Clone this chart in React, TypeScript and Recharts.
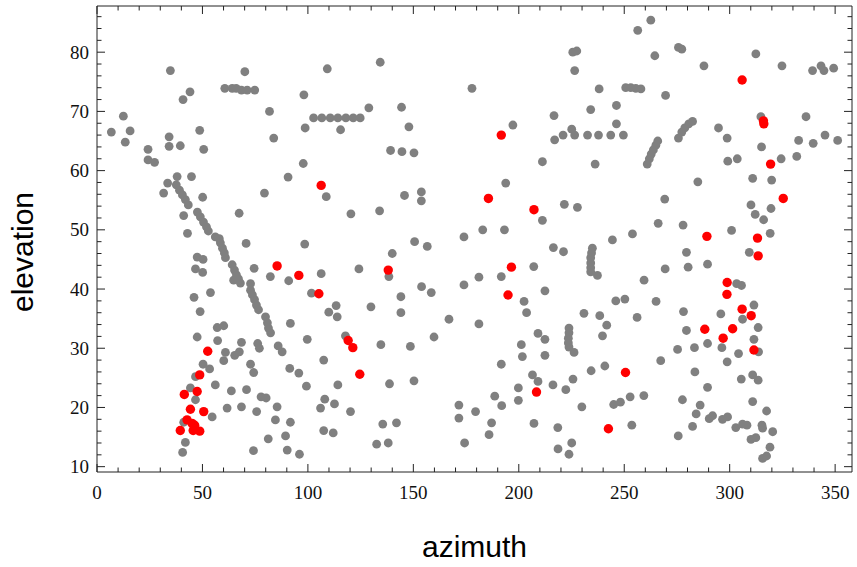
import { ScatterChart, Scatter, XAxis, YAxis } from "recharts";

// [azimuth, elevation]
const grayPoints: [number, number][] = [
  [6.8, 66.5], [12.5, 69.2], [15.7, 66.7], [13.4, 64.8], [24.2, 63.6], [24.2, 61.8], [27.3, 61.4],
  [34.8, 76.9], [34.2, 65.7], [34.2, 64.1], [39.5, 64.2], [40.8, 72.0], [44.1, 73.3], [48.7, 66.8],
  [50.6, 63.6], [60.6, 73.9], [64.1, 73.9], [66.0, 73.9], [68.5, 73.6], [71.2, 73.6], [74.8, 73.6],
  [70.1, 76.7], [81.8, 70.0], [83.8, 65.5], [109.2, 77.2], [134.3, 78.3], [98.1, 72.8], [128.9, 70.6],
  [144.4, 70.7], [177.8, 73.9], [102.7, 68.9], [106.6, 68.9], [110.6, 68.9], [114.2, 68.9],
  [118.0, 68.9], [121.5, 68.9], [124.8, 68.9], [98.7, 67.2], [115.5, 66.9], [147.9, 67.4],
  [139.2, 63.4], [144.6, 63.2], [150.3, 63.0], [97.8, 61.2], [262.6, 85.4], [256.4, 83.7],
  [225.6, 80.0], [227.5, 80.2], [264.5, 79.4], [226.5, 76.9], [238.1, 73.8], [250.7, 74.0],
  [253.1, 74.0], [255.5, 73.9], [257.9, 73.8], [269.6, 72.7], [246.3, 71.0], [234.1, 70.3],
  [216.7, 69.3], [197.2, 67.7], [246.3, 67.9], [221.0, 66.0], [225.1, 67.0], [226.5, 66.0],
  [217.0, 65.2], [232.6, 66.0], [237.8, 66.0], [243.6, 66.0], [249.6, 66.0], [211.2, 61.5],
  [236.2, 61.1], [260.9, 61.1], [261.9, 62.0], [262.8, 62.8], [263.8, 63.5], [265.0, 64.3],
  [265.9, 65.0], [275.7, 80.8], [277.3, 80.5], [287.8, 77.7], [312.4, 79.7], [324.8, 77.7],
  [339.3, 76.9], [343.3, 77.7], [344.7, 76.9], [349.3, 77.3], [275.7, 65.5], [277.3, 66.5],
  [278.7, 67.2], [280.6, 67.9], [282.4, 68.3], [294.7, 67.2], [298.8, 65.5], [314.8, 69.1],
  [336.2, 69.1], [345.2, 66.0], [332.7, 65.1], [339.6, 64.6], [351.2, 65.1], [315.1, 64.0],
  [299.1, 61.6], [303.6, 62.0], [324.4, 62.0], [331.8, 62.4],
  [38.0, 59.0], [44.8, 59.0], [33.5, 57.9], [31.6, 56.2], [37.6, 57.6], [39.1, 56.7], [40.5, 55.9],
  [41.9, 55.1], [43.3, 54.2], [50.1, 55.5], [79.4, 56.2], [90.6, 58.9], [41.1, 52.4], [47.6, 53.0],
  [49.0, 52.2], [50.5, 51.3], [51.9, 50.5], [52.8, 49.8], [67.4, 52.8], [42.9, 49.4], [56.1, 48.8],
  [58.0, 48.5], [58.5, 47.8], [59.5, 46.9], [60.4, 46.1], [60.9, 45.3], [70.7, 47.7], [47.5, 45.4],
  [50.3, 45.0], [46.7, 43.4], [50.1, 42.8], [74.5, 43.5], [82.2, 42.1], [90.9, 41.4], [64.1, 44.1],
  [65.2, 43.2], [66.1, 42.4], [67.1, 41.7], [68.0, 41.0], [64.8, 41.5], [72.8, 39.8], [73.7, 39.0],
  [74.7, 38.2], [75.6, 37.3], [76.6, 36.5], [72.8, 40.9], [46.0, 38.6], [53.8, 39.4], [48.9, 36.2],
  [79.9, 35.3],
  [108.7, 55.6], [120.4, 52.7], [134.0, 53.2], [145.8, 55.8], [153.8, 56.4], [153.8, 54.9],
  [98.5, 47.6], [150.6, 48.0], [156.6, 47.2], [174.0, 48.8], [140.0, 46.0], [124.2, 43.4],
  [138.4, 42.1], [106.3, 42.6], [101.7, 39.3], [153.9, 40.4], [158.5, 39.4], [174.0, 40.7],
  [181.1, 42.0], [144.1, 38.7], [113.4, 37.2], [109.9, 36.1], [113.9, 35.3], [129.9, 37.0],
  [144.1, 36.0], [166.9, 34.9], [182.9, 50.0],
  [193.8, 57.9], [211.2, 51.6], [221.6, 54.3], [227.8, 53.8], [269.2, 55.2], [193.2, 50.0],
  [266.1, 51.1], [253.9, 49.3], [244.4, 48.3], [216.4, 47.0], [221.2, 46.3], [234.9, 46.9],
  [234.5, 46.1], [234.1, 45.3], [234.1, 44.4], [234.1, 43.6], [234.1, 42.9], [237.3, 42.3],
  [207.1, 43.8], [191.7, 42.1], [259.4, 41.5], [269.4, 43.4], [212.4, 39.7], [202.5, 37.9],
  [203.7, 36.0], [246.0, 38.0], [250.3, 38.3], [265.1, 37.9], [230.9, 35.9], [238.4, 35.5],
  [256.1, 35.2],
  [284.9, 58.1], [310.9, 58.7], [319.9, 58.4], [310.1, 54.2], [319.6, 53.6], [312.1, 52.6],
  [316.1, 51.7], [277.9, 50.8], [300.9, 49.9], [319.2, 49.4], [279.5, 46.2], [309.3, 46.2],
  [280.3, 43.7], [289.5, 44.2], [303.3, 40.9], [305.6, 40.6], [311.5, 37.3], [278.1, 36.2],
  [295.8, 35.8], [306.1, 34.9],
  [57.0, 33.5], [60.1, 33.8], [47.5, 31.9], [57.2, 31.3], [68.5, 31.0], [80.8, 34.3], [81.3, 33.4],
  [82.3, 32.6], [76.2, 30.8], [77.0, 30.0], [85.9, 30.4], [87.8, 29.4], [91.7, 34.2], [91.4, 26.6],
  [60.9, 29.3], [65.3, 28.8], [67.5, 29.4], [60.1, 27.9], [72.8, 27.3], [74.3, 25.9], [50.3, 27.3],
  [53.4, 26.5], [46.7, 25.2], [56.1, 23.8], [44.3, 23.3], [63.7, 22.8], [70.9, 23.0], [77.8, 21.8],
  [80.2, 21.6], [85.4, 20.1], [84.6, 17.9], [91.7, 17.5], [81.2, 14.7], [89.4, 15.2], [90.2, 12.8],
  [74.2, 12.7], [46.7, 21.3], [54.6, 18.4], [61.7, 19.9], [68.5, 20.1], [75.7, 19.3], [41.1, 17.5],
  [41.9, 14.1], [40.6, 12.4],
  [181.1, 34.1], [99.7, 31.5], [117.8, 32.1], [134.6, 30.6], [148.6, 30.3], [159.8, 31.9],
  [107.5, 28.0], [95.7, 25.8], [99.3, 23.6], [114.2, 23.8], [138.7, 24.0], [150.3, 24.5],
  [108.0, 21.4], [106.0, 19.9], [112.6, 20.6], [120.2, 19.3], [171.6, 20.4], [171.6, 18.2],
  [179.5, 19.3], [135.5, 17.2], [142.0, 17.4], [107.5, 16.1], [112.0, 15.7], [96.0, 12.1],
  [132.6, 13.8], [138.1, 14.0], [174.3, 14.0],
  [209.1, 32.5], [212.4, 31.5], [201.2, 30.6], [201.7, 28.6], [212.4, 28.8], [223.8, 33.4],
  [223.8, 32.6], [223.5, 31.7], [223.5, 30.9], [223.8, 30.2], [226.2, 29.3], [241.7, 33.9],
  [239.7, 32.1], [191.7, 27.3], [267.3, 27.9], [234.3, 26.2], [240.8, 27.0], [206.5, 25.5],
  [209.1, 24.4], [199.8, 23.3], [216.2, 23.8], [222.3, 23.0], [225.7, 24.8], [188.6, 21.9],
  [199.8, 21.2], [191.9, 20.3], [229.9, 20.1], [245.0, 20.5], [248.2, 20.9], [252.8, 21.8],
  [259.3, 22.0], [187.1, 17.4], [185.9, 15.4], [207.2, 17.3], [218.5, 16.6], [253.6, 17.0],
  [225.1, 14.0], [218.6, 13.0], [223.8, 12.1],
  [279.5, 33.0], [313.5, 33.5], [311.5, 31.5], [313.7, 29.4], [275.3, 29.8], [283.3, 30.1],
  [289.5, 30.8], [296.3, 30.1], [304.2, 29.1], [298.8, 27.7], [283.5, 26.0], [310.9, 25.5],
  [313.5, 24.6], [305.5, 24.8], [289.5, 23.4], [277.6, 21.3], [286.0, 20.4], [284.1, 18.9],
  [310.9, 21.0], [317.5, 19.4], [290.3, 18.1], [291.9, 18.6], [296.6, 18.0], [299.0, 18.4],
  [302.9, 16.6], [306.1, 17.2], [308.2, 17.0], [315.3, 17.0], [315.6, 16.5], [320.4, 15.9],
  [282.4, 16.8], [275.6, 15.2], [310.1, 14.6], [312.4, 14.9], [319.1, 13.3], [315.6, 11.4],
  [317.5, 11.8],
];

const redPoints: [number, number][] = [
  [191.7, 66.0], [305.9, 75.3], [316.0, 68.4], [316.2, 67.9], [319.4, 61.1], [85.4, 43.9],
  [106.3, 57.5], [138.1, 43.2], [95.7, 42.3], [105.2, 39.2], [185.6, 55.3], [207.2, 53.4],
  [196.5, 43.7], [194.9, 39.0], [325.4, 55.3], [289.2, 48.9], [313.2, 48.6], [313.5, 45.6],
  [298.8, 41.1], [298.7, 39.1], [305.9, 36.6], [310.2, 35.5], [288.2, 33.2], [301.4, 33.3],
  [296.9, 31.7], [311.5, 29.7], [119.1, 31.3], [121.3, 30.1], [124.6, 25.6], [208.4, 22.6],
  [250.6, 25.9], [242.5, 16.4], [52.5, 29.5], [48.7, 25.5], [41.4, 22.2], [47.5, 22.7],
  [44.3, 19.7], [50.6, 19.3], [42.7, 17.9], [45.1, 17.3], [46.3, 17.0], [39.5, 16.1],
  [45.6, 16.1], [48.7, 16.0],
];

const xTicks = [
  0, 10, 20, 30, 40, 50, 60, 70, 80, 90, 100, 110, 120, 130, 140, 150, 160, 170, 180,
  190, 200, 210, 220, 230, 240, 250, 260, 270, 280, 290, 300, 310, 320, 330, 340, 350,
];
const yTicks = [
  10, 12, 14, 16, 18, 20, 22, 24, 26, 28, 30, 32, 34, 36, 38, 40, 42, 44, 46, 48,
  50, 52, 54, 56, 58, 60, 62, 64, 66, 68, 70, 72, 74, 76, 78, 80, 82, 84, 86,
];

const xDomain = [0, 358];
const yDomain = [9.1, 87.8];

const frameColor = "#222";
const tickFont = '"Liberation Serif", "Times New Roman", serif';
const titleFont = '"Liberation Sans", Arial, sans-serif';

const toRows = (pts: [number, number][]) => pts.map(([az, el]) => ({ az, el }));

function BottomTick({ x, y, payload }: any) {
  const major = payload.value % 50 === 0;
  return (
    <g>
      <line x1={x} y1={y} x2={x} y2={y - (major ? 8 : 4.5)} stroke={frameColor} />
      {major && (
        <text x={x} y={y + 27} textAnchor="middle" fontFamily={tickFont} fontSize={19} fill="#111">
          {payload.value}
        </text>
      )}
    </g>
  );
}

function TopTick({ x, y, payload }: any) {
  const major = payload.value % 50 === 0;
  return <line x1={x} y1={y} x2={x} y2={y + (major ? 8 : 4.5)} stroke={frameColor} />;
}

function LeftTick({ x, y, payload }: any) {
  const major = payload.value % 10 === 0;
  return (
    <g>
      <line x1={x} y1={y} x2={x + (major ? 8 : 4.5)} y2={y} stroke={frameColor} />
      {major && (
        <text x={x - 8} y={y + 6.5} textAnchor="end" fontFamily={tickFont} fontSize={19} fill="#111">
          {payload.value}
        </text>
      )}
    </g>
  );
}

function RightTick({ x, y, payload }: any) {
  const major = payload.value % 10 === 0;
  return <line x1={x} y1={y} x2={x - (major ? 8 : 4.5)} y2={y} stroke={frameColor} />;
}

const Dot = (color: string, r: number) => (props: any) =>
  <circle cx={props.cx} cy={props.cy} r={r} fill={color} />;

export default function App() {
  return (
    <div style={{ position: "absolute", left: 0, top: 0, width: 857, height: 567, background: "#fff" }}>
      <ScatterChart width={857} height={567} margin={{ top: 5, right: 4, bottom: 0, left: 0 }}>
        <XAxis
          dataKey="az"
          type="number"
          domain={xDomain}
          allowDataOverflow
          ticks={xTicks}
          interval={0}
          tickSize={0}
          tickMargin={0}
          tickLine={false}
          tick={<BottomTick />}
          height={95}
          stroke={frameColor}
          label={{
            content: (p: any) => (
              <text
                x={p.viewBox.x + p.viewBox.width / 2}
                y={557}
                textAnchor="middle"
                fontFamily={titleFont}
                fontSize={30}
                fill="#000"
              >
                azimuth
              </text>
            ),
          }}
        />
        <XAxis
          xAxisId="top"
          dataKey="az"
          orientation="top"
          type="number"
          domain={xDomain}
          allowDataOverflow
          ticks={xTicks}
          interval={0}
          tickSize={0}
          tickMargin={0}
          tickLine={false}
          tick={<TopTick />}
          height={1}
          stroke={frameColor}
        />
        <YAxis
          dataKey="el"
          type="number"
          domain={yDomain}
          allowDataOverflow
          ticks={yTicks}
          interval={0}
          tickSize={0}
          tickMargin={0}
          tickLine={false}
          tick={<LeftTick />}
          width={97}
          stroke={frameColor}
          label={{
            content: () => (
              <text
                x={33}
                y={252}
                transform="rotate(-90 33 252)"
                textAnchor="middle"
                fontFamily={titleFont}
                fontSize={30}
                fill="#000"
              >
                elevation
              </text>
            ),
          }}
        />
        <YAxis
          yAxisId="right"
          dataKey="el"
          orientation="right"
          type="number"
          domain={yDomain}
          allowDataOverflow
          ticks={yTicks}
          interval={0}
          tickSize={0}
          tickMargin={0}
          tickLine={false}
          tick={<RightTick />}
          width={1}
          stroke={frameColor}
        />
        <Scatter data={toRows(grayPoints)} shape={Dot("#808080", 4.4)} isAnimationActive={false} />
        <Scatter
          data={toRows(redPoints)}
          xAxisId="top"
          yAxisId="right"
          shape={Dot("#ff0000", 4.7)}
          isAnimationActive={false}
        />
      </ScatterChart>
    </div>
  );
}
